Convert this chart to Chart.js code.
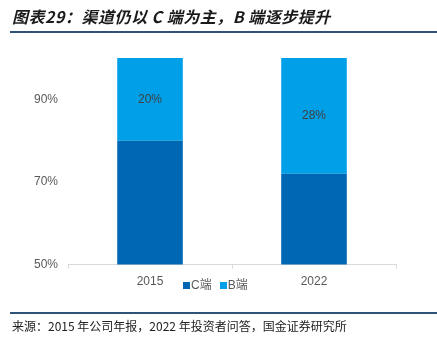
<!DOCTYPE html>
<html>
<head>
<meta charset="utf-8">
<script src="https://cdn.jsdelivr.net/npm/chart.js@4"></script>
<style>
  body { margin: 0; background: #fff; }
  #wrap { position: relative; width: 437px; height: 338px; overflow: hidden; }
  #chartBox { position: absolute; left: 0; top: 0; width: 437px; height: 338px; }
  .title {
    position: absolute; left: 12px; top: 4px;
    font-family: "Noto Sans CJK SC", sans-serif; font-size: 16px; font-weight: bold; font-style: italic;
    color: #1a1a1a; white-space: nowrap; letter-spacing: 0.5px;
  }
  .rule { position: absolute; left: 10px; right: 0; height: 1.5px; background: #2f5376; }
  .source {
    position: absolute; left: 12px; top: 317px;
    font-family: "Noto Sans CJK SC", sans-serif; font-size: 12px; color: #222; white-space: nowrap;
  }
  #legend {
    position: absolute; left: 183px; top: 275px;
    font-family: "Liberation Sans", "Noto Sans CJK SC", sans-serif; font-size: 12px; color: #595959;
    white-space: nowrap;
  }
  #legend span.box { display: inline-block; width: 7px; height: 7px; margin-right: 1px; vertical-align: 0px; }
  #legend span.item { margin-right: 8px; }
</style>
</head>
<body>
<div id="wrap">
  <div id="chartBox"><canvas id="channelChart"></canvas></div>
  <div class="title">图表29：渠道仍以 C 端为主，B 端逐步提升</div>
  <div class="rule" style="top:31px"></div>
  <div id="legend"></div>
  <div class="rule" style="top:312px"></div>
  <div class="source">来源：2015 年公司年报，2022 年投资者问答，国金证券研究所</div>
</div>
<script>
// 数据
var years = ['2015', '2022'];
var seriesNames = ['C端', 'B端'];
var cShare = [80, 72];
var bShare = [20, 28];
var yTicks = [50, 70, 90];
var seriesColors = ['#0067b4', '#00a0e9'];

// B端 百分比标签
var barLabelPlugin = {
  id: 'barLabels',
  afterDatasetsDraw: function(chart) {
    var ctx = chart.ctx;
    var meta = chart.getDatasetMeta(1);
    ctx.save();
    ctx.font = '12px "Liberation Sans", Arial, sans-serif';
    ctx.fillStyle = '#404040';
    ctx.textAlign = 'center';
    ctx.textBaseline = 'middle';
    meta.data.forEach(function(bar, i) {
      var p = bar.getProps(['x', 'y', 'base'], true);
      ctx.fillText(bShare[i] + '%', p.x, (p.y + p.base) / 2);
    });
    ctx.restore();
  }
};

var ctx = document.getElementById('channelChart').getContext('2d');
new Chart(ctx, {
  type: 'bar',
  data: {
    labels: years,
    datasets: [{
      label: seriesNames[0],
      data: cShare,
      backgroundColor: seriesColors[0]
    }, {
      label: seriesNames[1],
      data: bShare,
      backgroundColor: seriesColors[1]
    }]
  },
  options: {
    responsive: true,
    maintainAspectRatio: false,
    animation: false,
    layout: { padding: { left: 32, right: 41, top: 58, bottom: 43 } },
    plugins: {
      legend: { display: false },
      tooltip: { enabled: false }
    },
    datasets: { bar: { categoryPercentage: 0.4, barPercentage: 1.0 } },
    scales: {
      x: {
        stacked: true,
        grid: { display: true, drawOnChartArea: false, tickLength: 4, color: '#d9d9d9' },
        border: { display: true, color: '#d9d9d9' },
        ticks: {
          color: '#595959',
          font: { family: '"Liberation Sans", Arial, sans-serif', size: 12 },
          padding: 6
        }
      },
      y: {
        stacked: true,
        min: 50,
        max: 100,
        grid: { display: false },
        border: { display: false },
        afterBuildTicks: function(axis) {
          axis.ticks = yTicks.map(function(v) { return { value: v }; });
        },
        ticks: {
          color: '#595959',
          font: { family: '"Liberation Sans", Arial, sans-serif', size: 12 },
          padding: 2,
          callback: function(v) { return v + '%'; }
        }
      }
    }
  },
  plugins: [barLabelPlugin]
});

// 图例
var legend = document.getElementById('legend');
seriesNames.forEach(function(name, i) {
  var item = document.createElement('span');
  item.className = 'item';
  item.innerHTML = '<span class="box" style="background:' + seriesColors[i] + '"></span>' + name;
  legend.appendChild(item);
});
</script>
</body>
</html>
